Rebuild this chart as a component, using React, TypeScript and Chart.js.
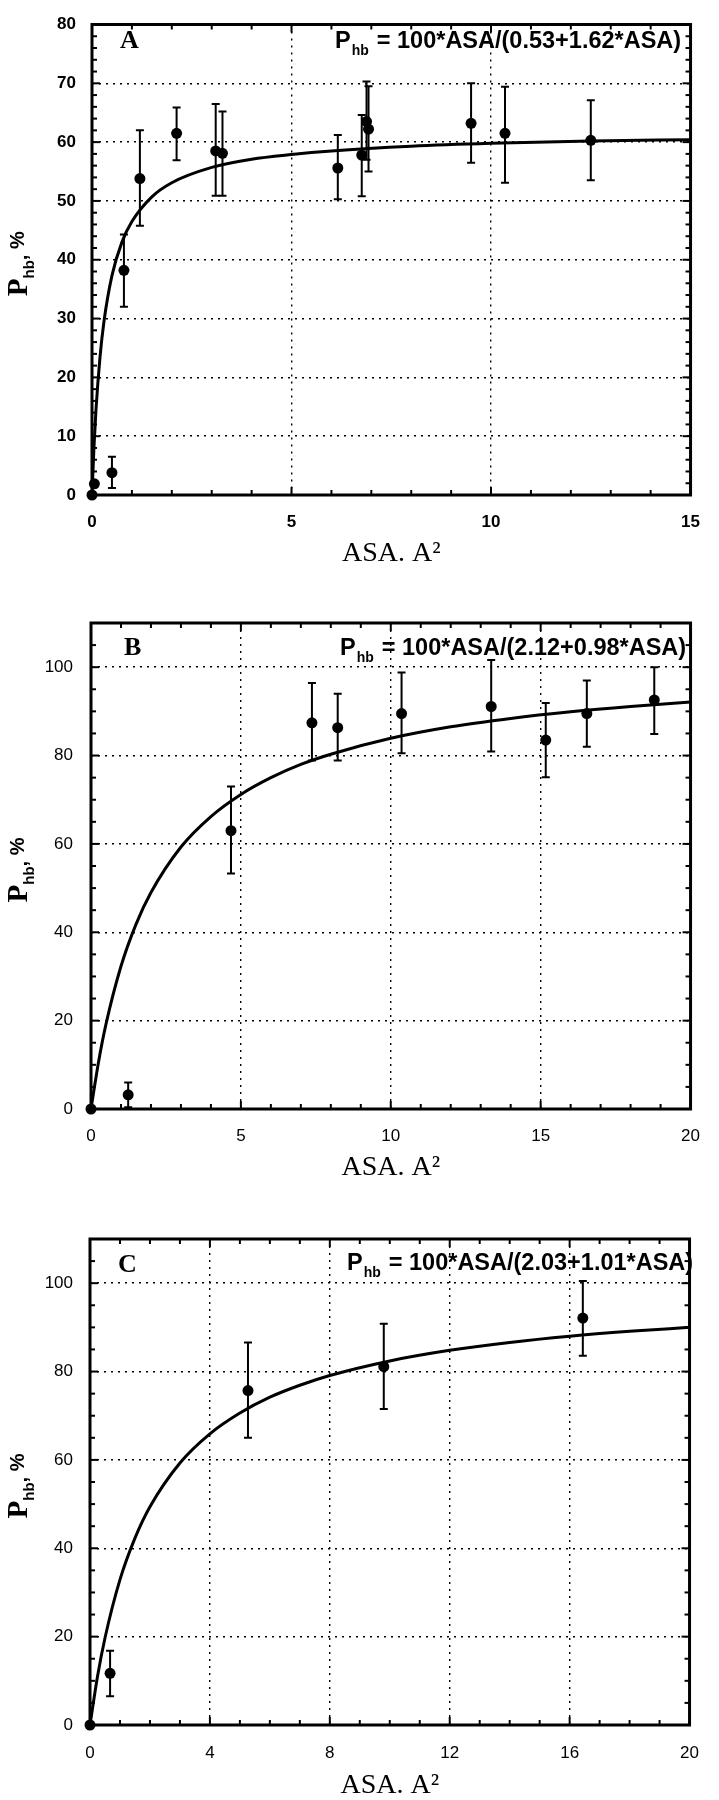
import React, { useEffect, useRef } from 'react';
import { Chart, registerables } from 'chart.js';
Chart.register(...registerables);

// ---------- Panel A data ----------
const aX = [0, 0.06, 0.5, 0.8, 1.2, 2.12, 3.1, 3.27, 6.16, 6.76, 6.88, 6.93, 9.5, 10.35, 12.5];
const aY = [0, 1.9, 3.8, 38.2, 53.8, 61.5, 58.5, 58.1, 55.6, 57.8, 63.5, 62.2, 63.2, 61.5, 60.3];
const aLow = [null, null, 1.2, 32, 45.8, 56.9, 50.9, 50.9, 50.3, 50.8, 57, 55, 56.5, 53.1, 53.5];
const aHigh = [null, null, 6.5, 44.3, 62, 65.9, 66.5, 65.2, 61.2, 64.6, 70.3, 69.5, 70, 69.4, 67.1];
const aFitX = [0, 0.05, 0.1, 0.2, 0.3, 0.5, 0.75, 1, 1.5, 2, 3, 4, 5, 6, 8, 10, 12.5, 15];
const aFitY = [0, 8.2, 14.5, 23.4, 29.5, 37.3, 43.0, 46.5, 50.7, 53.1, 55.7, 57.1, 57.9, 58.5, 59.3, 59.8, 60.2, 60.4];
const aXTicks = [0, 5, 10, 15];
const aYTicks = [0, 10, 20, 30, 40, 50, 60, 70, 80];
const aFormula = '100*ASA/(0.53+1.62*ASA)';

// ---------- Panel B data ----------
const bX = [0, 1.24, 4.67, 7.37, 8.23, 10.36, 13.35, 15.17, 16.54, 18.79];
const bY = [0, 3.2, 63.0, 87.4, 86.3, 89.5, 91.1, 83.5, 89.5, 92.6];
const bLow = [null, 0.4, 53.3, 78.9, 78.9, 80.5, 80.9, 75.1, 82.0, 84.9];
const bHigh = [null, 6.0, 73.0, 96.4, 94.0, 98.8, 101.6, 91.9, 97.0, 100];
const bFitX = [0, 0.25, 0.5, 1, 1.5, 2, 3, 4, 5, 6, 7, 8, 10, 12, 14, 16, 18, 20];
const bFitY = [0, 10.6, 19.2, 32.3, 41.8, 49.0, 59.3, 66.2, 71.2, 75.0, 78.0, 80.3, 83.9, 86.5, 88.4, 89.9, 91.1, 92.1];
const bXTicks = [0, 5, 10, 15, 20];
const bYTicks = [0, 20, 40, 60, 80, 100];
const bFormula = '100*ASA/(2.12+0.98*ASA)';

// ---------- Panel C data ----------
const cX = [0, 0.67, 5.27, 9.8, 16.44];
const cY = [0, 11.7, 75.7, 81.1, 92.1];
const cLow = [null, 6.5, 65.0, 71.5, 83.6];
const cHigh = [null, 16.8, 86.6, 90.8, 100.5];
const cFitX = [0, 0.25, 0.5, 1, 1.5, 2, 3, 4, 5, 6, 7, 8, 10, 12, 14, 16, 18, 20];
const cFitY = [0, 11.0, 19.7, 32.9, 42.3, 49.4, 59.3, 65.9, 70.6, 74.2, 76.9, 79.1, 82.4, 84.8, 86.6, 88.0, 89.1, 90.0];
const cXTicks = [0, 4, 8, 12, 16, 20];
const cYTicks = [0, 20, 40, 60, 80, 100];
const cFormula = '100*ASA/(2.03+1.01*ASA)';

const xTitle = 'ASA. A\u00B2';
const SANS = '"Liberation Sans", Arial, sans-serif';
const SERIF = '"Liberation Serif", "Times New Roman", serif';

type PanelDef = {
  top: number; height: number;
  area: { left: number; top: number; right: number; bottom: number };
  xMin: number; xMax: number; yMin: number; yMax: number;
  xTicks: number[]; yTicks: number[]; xMinor: number; yMinor: number;
  px: number[]; py: number[]; lo: (number | null)[]; hi: (number | null)[];
  fx: number[]; fy: number[];
  letter: string; letterPos: [number, number];
  formula: string; formulaPos: [number, number];
  bold: boolean; yPad: number; xPad: number; titlePad: number;
};

const panels: PanelDef[] = [
  {
    top: 0, height: 590, area: { left: 92, top: 10, right: 706, bottom: 495 },
    xMin: 0, xMax: 15, yMin: 0, yMax: 80, xTicks: aXTicks, yTicks: aYTicks, xMinor: 1, yMinor: 2,
    px: aX, py: aY, lo: aLow, hi: aHigh, fx: aFitX, fy: aFitY,
    letter: 'A', letterPos: [120, 48], formula: aFormula, formulaPos: [335, 48],
    bold: true, yPad: 16, xPad: 19, titlePad: 22,
  },
  {
    top: 590, height: 600, area: { left: 91, top: 33, right: 706, bottom: 519 },
    xMin: 0, xMax: 20, yMin: 0, yMax: 110, xTicks: bXTicks, yTicks: bYTicks, xMinor: 1, yMinor: 5,
    px: bX, py: bY, lo: bLow, hi: bHigh, fx: bFitX, fy: bFitY,
    letter: 'B', letterPos: [124, 65], formula: bFormula, formulaPos: [340, 65],
    bold: false, yPad: 18, xPad: 19, titlePad: 8,
  },
  {
    top: 1190, height: 610, area: { left: 90, top: 49, right: 706, bottom: 535 },
    xMin: 0, xMax: 20, yMin: 0, yMax: 110, xTicks: cXTicks, yTicks: cYTicks, xMinor: 1, yMinor: 5,
    px: cX, py: cY, lo: cLow, hi: cHigh, fx: cFitX, fy: cFitY,
    letter: 'C', letterPos: [118, 82], formula: cFormula, formulaPos: [347, 80],
    bold: false, yPad: 17, xPad: 20, titlePad: 0,
  },
];

function Panel({ d }: { d: PanelDef }) {
  const ref = useRef<HTMLCanvasElement>(null);
  useEffect(() => {
    const canvas = ref.current;
    if (!canvas) return;
    const deco = {
      id: 'deco',
      beforeDatasetsDraw(chart: any) {
        const { ctx } = chart;
        const xs = chart.scales.x, ys = chart.scales.y;
        ctx.save();
        ctx.strokeStyle = '#000';
        ctx.lineWidth = 2;
        d.px.forEach((xv, i) => {
          const lo = d.lo[i], hi = d.hi[i];
          if (lo == null || hi == null) return;
          const p = xs.getPixelForValue(xv);
          const pl = ys.getPixelForValue(lo);
          const ph = ys.getPixelForValue(hi);
          ctx.beginPath();
          ctx.moveTo(p, pl); ctx.lineTo(p, ph);
          ctx.moveTo(p - 4, pl); ctx.lineTo(p + 4, pl);
          ctx.moveTo(p - 4, ph); ctx.lineTo(p + 4, ph);
          ctx.stroke();
        });
        ctx.restore();
      },
      afterDatasetsDraw(chart: any) {
        const { ctx, chartArea: a } = chart;
        const xs = chart.scales.x, ys = chart.scales.y;
        ctx.save();
        ctx.strokeStyle = '#000';
        ctx.fillStyle = '#000';
        ctx.lineWidth = 2;
        const seg = (x1: number, y1: number, x2: number, y2: number) => {
          ctx.beginPath(); ctx.moveTo(x1, y1); ctx.lineTo(x2, y2); ctx.stroke();
        };
        const nx = Math.round((d.xMax - d.xMin) / d.xMinor);
        for (let k = 0; k <= nx; k++) {
          const v = d.xMin + k * d.xMinor;
          const p = xs.getPixelForValue(v);
          const L = d.xTicks.some((t) => Math.abs(t - v) < 1e-6) ? 8 : 5;
          seg(p, a.bottom, p, a.bottom - L);
          seg(p, a.top, p, a.top + L);
        }
        const ny = Math.round((d.yMax - d.yMin) / d.yMinor);
        for (let k = 0; k <= ny; k++) {
          const v = d.yMin + k * d.yMinor;
          const p = ys.getPixelForValue(v);
          const L = d.yTicks.some((t) => Math.abs(t - v) < 1e-6) ? 8 : 5;
          seg(a.left, p, a.left + L, p);
          seg(a.right, p, a.right - L, p);
        }
        ctx.lineWidth = 3;
        ctx.strokeRect(a.left, a.top, a.right - a.left, a.bottom - a.top);

        // panel letter
        ctx.textBaseline = 'alphabetic';
        ctx.textAlign = 'left';
        ctx.font = `bold 26px ${SERIF}`;
        ctx.fillText(d.letter, d.letterPos[0], d.letterPos[1]);

        // formula
        let fx = d.formulaPos[0];
        const fy = d.formulaPos[1];
        ctx.font = `bold 23.5px ${SANS}`;
        ctx.fillText('P', fx, fy);
        fx += ctx.measureText('P').width + 1;
        ctx.font = `bold 14px ${SANS}`;
        ctx.fillText('hb', fx, fy + 7);
        fx += ctx.measureText('hb').width + 8;
        ctx.font = `bold 23.5px ${SANS}`;
        ctx.fillText('= ' + d.formula, fx, fy);

        // y axis title
        ctx.translate(27, (a.top + a.bottom) / 2 + 4);
        ctx.rotate(-Math.PI / 2);
        const parts = [
          { t: 'P', f: `bold 29px ${SERIF}`, dy: 0 },
          { t: 'hb', f: `bold 15px ${SANS}`, dy: 7 },
          { t: ', ', f: `bold 20px ${SANS}`, dy: 0 },
          { t: '%', f: `bold 20px ${SANS}`, dy: -3 },
        ];
        let total = 0;
        parts.forEach((p) => { ctx.font = p.f; total += ctx.measureText(p.t).width; });
        let px = -total / 2;
        parts.forEach((p) => {
          ctx.font = p.f;
          ctx.fillText(p.t, px, p.dy);
          px += ctx.measureText(p.t).width;
        });
        ctx.restore();
      },
    };

    const tickFont = { family: SANS, size: 17, weight: d.bold ? 'bold' : 'normal', lineHeight: 1 } as any;
    const chart = new Chart(canvas, {
      type: 'scatter',
      data: {
        datasets: [
          {
            data: d.px.map((x, i) => ({ x, y: d.py[i] })),
            pointRadius: 5.5,
            pointBackgroundColor: '#000',
            pointBorderColor: '#000',
            pointBorderWidth: 0,
            showLine: false,
            clip: false,
          } as any,
          {
            data: d.fx.map((x, i) => ({ x, y: d.fy[i] })),
            showLine: true,
            borderColor: '#000',
            borderWidth: 3,
            pointRadius: 0,
            cubicInterpolationMode: 'monotone',
            fill: false,
          } as any,
        ],
      },
      options: {
        responsive: false,
        animation: false,
        devicePixelRatio: 1,
        events: [],
        layout: { padding: { left: 0, top: d.area.top, right: 719 - d.area.right, bottom: 0 } },
        plugins: { legend: { display: false }, tooltip: { enabled: false } },
        scales: {
          x: {
            type: 'linear',
            position: 'bottom',
            min: d.xMin,
            max: d.xMax,
            afterBuildTicks: (s: any) => { s.ticks = d.xTicks.map((v) => ({ value: v })); },
            afterFit: (s: any) => { s.height = d.height - d.area.bottom; },
            grid: { color: '#000', lineWidth: 1.4, drawTicks: false },
            border: { display: false, dash: [2, 5] },
            ticks: { padding: d.xPad, color: '#000', font: tickFont, maxRotation: 0, autoSkip: false },
            title: {
              display: true, text: xTitle, color: '#000',
              font: { family: SERIF, size: 28, lineHeight: 1 },
              padding: { top: 0, bottom: d.titlePad },
            },
          },
          y: {
            type: 'linear',
            min: d.yMin,
            max: d.yMax,
            afterBuildTicks: (s: any) => { s.ticks = d.yTicks.map((v) => ({ value: v })); },
            afterFit: (s: any) => { s.width = d.area.left; },
            grid: { color: '#000', lineWidth: 1.4, drawTicks: false },
            border: { display: false, dash: [2, 5] },
            ticks: { padding: d.yPad, color: '#000', font: tickFont, autoSkip: false },
          },
        },
      } as any,
      plugins: [deco as any],
    });
    return () => chart.destroy();
  }, [d]);
  return (
    <div style={{ position: 'absolute', left: 0, top: d.top, width: 719, height: d.height }}>
      <canvas ref={ref} width={719} height={d.height} style={{ width: 719, height: d.height, display: 'block' }} />
    </div>
  );
}

export default function App() {
  return (
    <div style={{ position: 'absolute', left: 0, top: 0, width: 719, height: 1800, background: '#fff', overflow: 'hidden' }}>
      {panels.map((d, i) => <Panel key={i} d={d} />)}
    </div>
  );
}
